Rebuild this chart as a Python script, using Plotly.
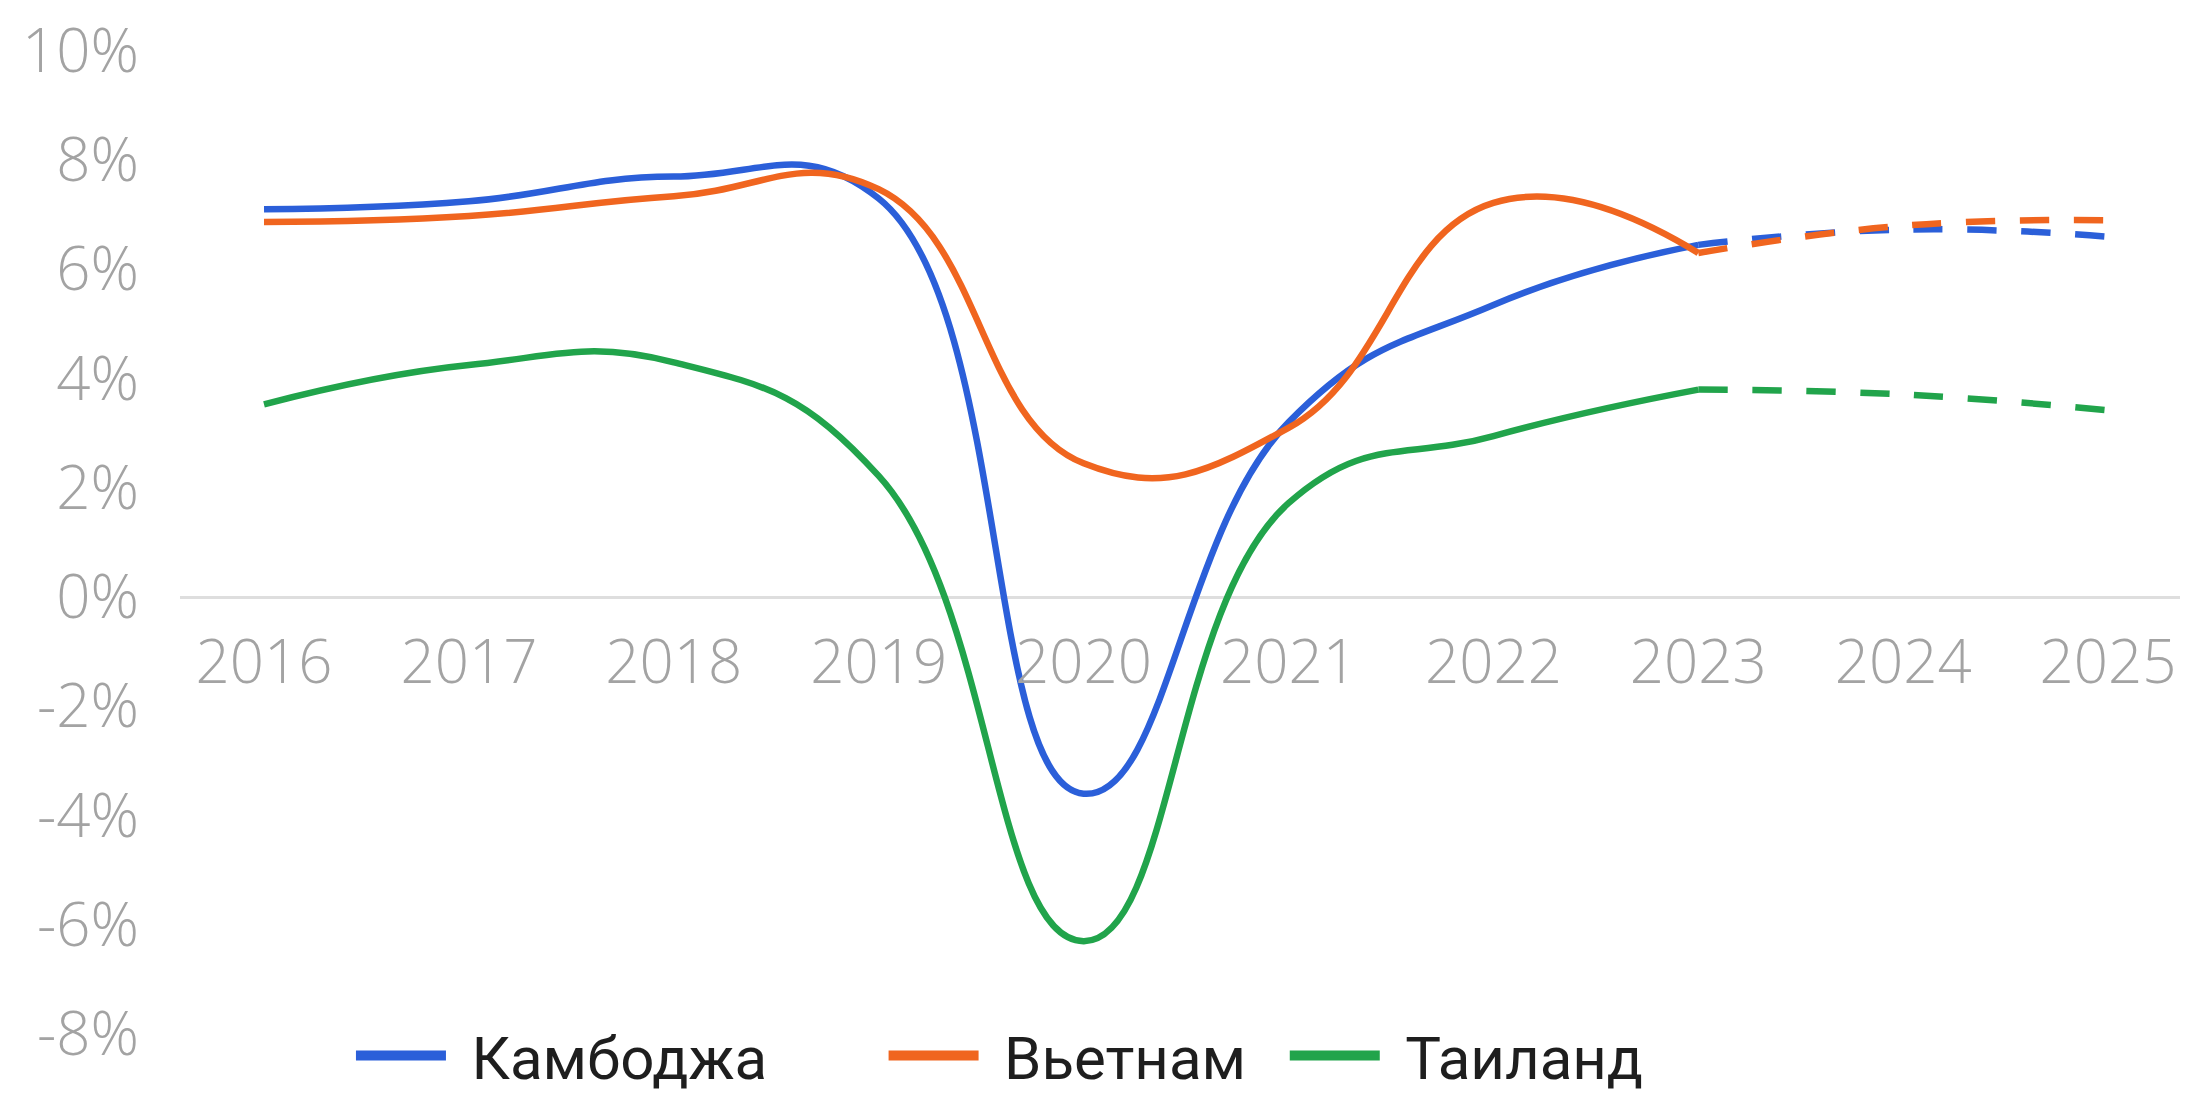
import plotly.graph_objects as go

years = [2016, 2017, 2018, 2019, 2020, 2021, 2022, 2023, 2024, 2025]
series_names = ["Камбоджа", "Вьетнам", "Таиланд"]
cambodia = [7.1, 7.25, 7.7, 7.3, -3.6, 3.2, 5.35, 6.45, 6.73, 6.6]
vietnam = [6.87, 6.98, 7.34, 7.47, 2.45, 3.1, 7.22, 6.3, 6.8, 6.9]
thailand = [3.53, 4.25, 4.3, 2.22, -6.3, 1.72, 2.95, 3.8, 3.71, 3.42]
colors = ["#2b5fd9", "#f0651f", "#21a44b"]
forecast_start = 2023

y_ticks = [-8, -6, -4, -2, 0, 2, 4, 6, 8, 10]
y_tick_text = [f"{v}%" for v in y_ticks]
x_tick_text = [str(y) for y in years]

fig = go.Figure()
split = years.index(forecast_start)
legends = ["legend", "legend2", "legend3"]
for name, vals, col, lg in zip(series_names, [cambodia, vietnam, thailand], colors, legends):
    fig.add_trace(go.Scatter(x=years[:split + 1], y=vals[:split + 1], mode="lines",
                             line=dict(color=col, width=6.5, shape="spline", smoothing=1.3),
                             showlegend=False, hoverinfo="skip"))
    fig.add_trace(go.Scatter(x=years[split:], y=vals[split:], mode="lines",
                             line=dict(color=col, width=6.5, shape="spline", smoothing=1.3, dash="29px,25px"),
                             showlegend=False, hoverinfo="skip"))
    fig.add_trace(go.Scatter(x=[None], y=[None], mode="lines", name="\u2004" + name,
                             line=dict(color=col, width=14), legend=lg, showlegend=True))

tick_font = dict(family="Open Sans", size=60, color="#a3a3a3", weight=300)
legend_common = dict(orientation="h", yanchor="middle", y=-0.022, xanchor="left",
                     font=dict(family="Roboto", size=60, color="#1e1e1e"),
                     itemwidth=90, bgcolor="rgba(0,0,0,0)", borderwidth=0)

fig.update_layout(
    width=2188, height=1093,
    margin=dict(l=172, r=0, t=43, b=16),
    paper_bgcolor="white", plot_bgcolor="white",
    xaxis=dict(range=[2015.590, 2025.429], tickvals=years, ticktext=x_tick_text,
               showgrid=False, zeroline=False, showline=False, ticks="",
               anchor="free", position=8 / 18, tickfont=tick_font,
               ticklabelstandoff=25, ticklabeloverflow="allow",
               automargin=False, fixedrange=True),
    yaxis=dict(range=[-8, 10], tickvals=y_ticks, ticktext=y_tick_text,
               showgrid=False, zeroline=True, zerolinecolor="#dedede", zerolinewidth=3,
               showline=False, ticks="", tickfont=tick_font, ticklabelstandoff=40,
               ticklabeloverflow="allow", automargin=False, fixedrange=True),
    legend=dict(x=0.0848, **legend_common),
    legend2=dict(x=0.349, **legend_common),
    legend3=dict(x=0.548, **legend_common),
    showlegend=True,
)

fig.write_html("out.html")
